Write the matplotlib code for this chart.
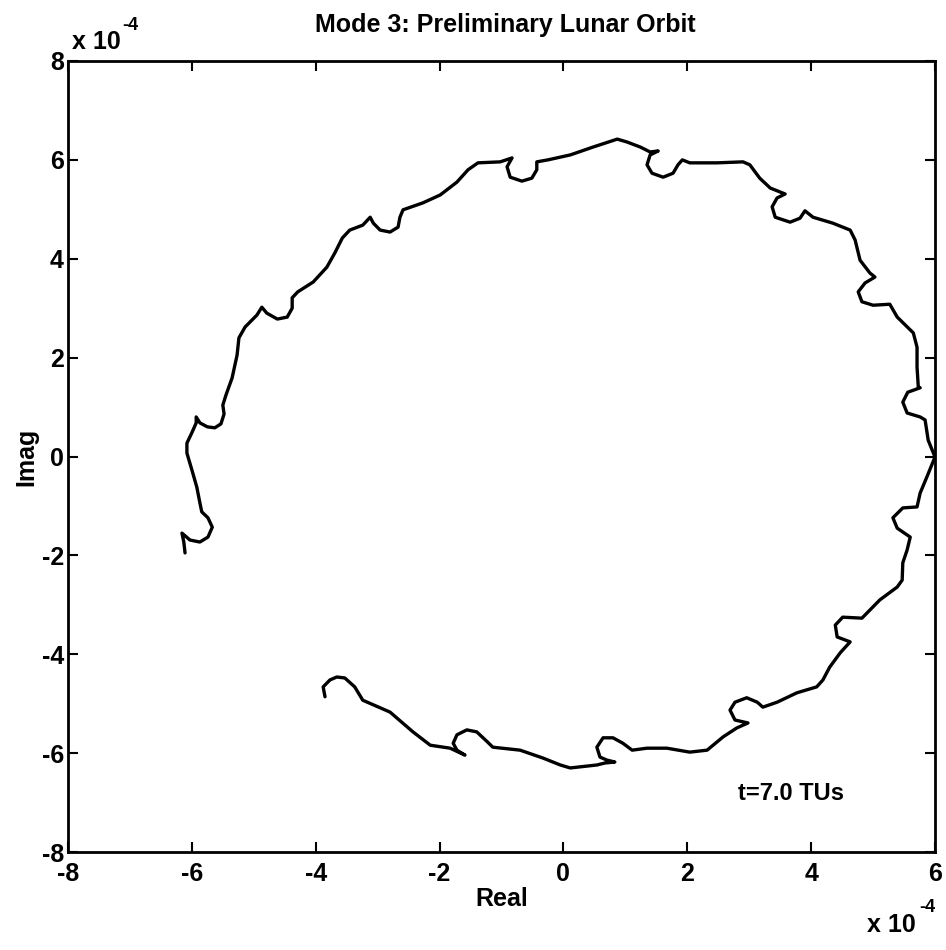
"""Mode 3 preliminary lunar orbit trace, MATLAB-style complex plane plot."""

import matplotlib

matplotlib.use("Agg")
import matplotlib.pyplot as plt

# orbit trace, both axes in units of 1e-4
real = [
    -6.11, -6.13, -6.16, -6.03, -5.87, -5.74, -5.67, -5.74, -5.84, -5.87,
    -5.92, -6.00, -6.08, -6.08, -6.00, -5.93, -5.93, -5.87, -5.75, -5.63,
    -5.53, -5.48, -5.50, -5.45, -5.35, -5.27, -5.24, -5.14, -4.95, -4.87,
    -4.79, -4.62, -4.46, -4.38, -4.38, -4.29, -4.04, -3.82, -3.69, -3.57,
    -3.45, -3.24, -3.12, -3.07, -2.96, -2.80, -2.67, -2.64, -2.59, -2.27,
    -1.99, -1.72, -1.54, -1.38, -1.02, -0.83, -0.91, -0.86, -0.67, -0.51,
    -0.43, -0.43, -0.25, 0.11, 0.48, 0.87, 1.03, 1.24, 1.40, 1.53,
    1.40, 1.35, 1.43, 1.61, 1.77, 1.85, 1.92, 2.04, 2.48, 2.90,
    3.01, 3.17, 3.34, 3.58, 3.45, 3.37, 3.42, 3.66, 3.82, 3.90,
    4.03, 4.35, 4.63, 4.71, 4.79, 4.95, 5.03, 4.87, 4.76, 4.82,
    5.00, 5.27, 5.39, 5.65, 5.71, 5.71, 5.73, 5.76, 5.56, 5.48,
    5.55, 5.76, 5.84, 5.89, 6.00, 5.87, 5.76, 5.71, 5.48, 5.32,
    5.39, 5.60, 5.55, 5.48, 5.47, 5.39, 5.11, 4.90, 4.82, 4.51,
    4.39, 4.42, 4.63, 4.47, 4.30, 4.19, 4.09, 3.77, 3.45, 3.22,
    3.13, 2.96, 2.77, 2.69, 2.77, 2.98, 2.80, 2.58, 2.32, 2.04,
    1.67, 1.35, 1.11, 0.96, 0.80, 0.64, 0.54, 0.59, 0.70, 0.83,
    0.67, 0.54, 0.11, -0.05, -0.33, -0.70, -1.14, -1.23, -1.40, -1.56,
    -1.72, -1.78, -1.72, -1.59, -1.83, -2.15, -2.43, -2.80, -3.24, -3.37,
    -3.53, -3.66, -3.77, -3.88, -3.85,
]
imag = [
    -1.95, -1.73, -1.55, -1.69, -1.73, -1.63, -1.43, -1.24, -1.12, -0.94,
    -0.62, -0.27, 0.07, 0.27, 0.48, 0.68, 0.80, 0.68, 0.60, 0.58,
    0.66, 0.86, 1.04, 1.24, 1.59, 2.05, 2.40, 2.62, 2.86, 3.02,
    2.90, 2.78, 2.82, 3.00, 3.21, 3.33, 3.53, 3.83, 4.12, 4.42,
    4.58, 4.68, 4.84, 4.72, 4.58, 4.54, 4.64, 4.84, 4.99, 5.13,
    5.29, 5.55, 5.80, 5.94, 5.96, 6.04, 5.86, 5.65, 5.57, 5.63,
    5.80, 5.96, 6.00, 6.10, 6.26, 6.42, 6.36, 6.26, 6.16, 6.18,
    6.10, 5.90, 5.73, 5.65, 5.73, 5.90, 6.00, 5.94, 5.94, 5.96,
    5.90, 5.63, 5.43, 5.31, 5.23, 5.05, 4.84, 4.74, 4.82, 4.97,
    4.84, 4.72, 4.58, 4.38, 3.97, 3.71, 3.63, 3.51, 3.33, 3.13,
    3.06, 3.08, 2.82, 2.50, 2.21, 1.81, 1.41, 1.39, 1.30, 1.10,
    0.88, 0.80, 0.74, 0.33, -0.01, -0.41, -0.74, -1.02, -1.04, -1.24,
    -1.45, -1.63, -1.89, -2.15, -2.50, -2.64, -2.90, -3.17, -3.27, -3.25,
    -3.41, -3.65, -3.75, -3.97, -4.26, -4.52, -4.66, -4.78, -4.97, -5.07,
    -4.97, -4.88, -4.97, -5.13, -5.33, -5.39, -5.49, -5.67, -5.94, -5.98,
    -5.90, -5.90, -5.94, -5.80, -5.69, -5.69, -5.88, -6.08, -6.14, -6.18,
    -6.20, -6.24, -6.30, -6.24, -6.10, -5.94, -5.88, -5.77, -5.57, -5.53,
    -5.63, -5.80, -5.94, -6.04, -5.90, -5.84, -5.57, -5.17, -4.93, -4.66,
    -4.48, -4.46, -4.52, -4.66, -4.86,
]

x_ticks = [-8, -6, -4, -2, 0, 2, 4, 6]
y_ticks = [-8, -6, -4, -2, 0, 2, 4, 6, 8]

plt.rcParams["font.family"] = ["Liberation Sans", "DejaVu Sans"]
plt.rcParams["font.weight"] = "bold"
plt.rcParams["axes.unicode_minus"] = False

W, H = 946, 950
fig = plt.figure(figsize=(W / 100, H / 100), dpi=100)
ax = fig.add_axes([68 / W, 1 - 852 / H, (935 - 68) / W, (852 - 61) / H])

ax.plot(real, imag, color="black", lw=2.4, solid_joinstyle="round", solid_capstyle="round")

ax.set_xlim(-8, 6)
ax.set_ylim(-8, 8)
ax.set_xticks(x_ticks)
ax.set_yticks(y_ticks)
ax.tick_params(direction="in", length=7, width=1.5, top=True, right=True, labelsize=18)
ax.tick_params(axis="x", pad=7)
ax.tick_params(axis="y", pad=3)
for sp in ax.spines.values():
    sp.set_linewidth(2)

ax.set_xlabel("Real", fontsize=18, fontweight="bold", labelpad=1)
ax.set_ylabel("Imag", fontsize=18, fontweight="bold", labelpad=2)
ax.text(3.67, -6.81, "t=7.0 TUs", ha="center", va="center", fontsize=17)

fig.text(505 / W, 1 - 25 / H, "Mode 3: Preliminary Lunar Orbit", ha="center", va="center", fontsize=18)

# MATLAB-style exponent labels
fig.text(72 / W, 1 - 42 / H, "x 10", ha="left", va="center", fontsize=18)
fig.text(122 / W, 1 - 26 / H, "-4", ha="left", va="center", fontsize=13)
fig.text(867 / W, 1 - 925 / H, "x 10", ha="left", va="center", fontsize=18)
fig.text(919 / W, 1 - 908 / H, "-4", ha="left", va="center", fontsize=13)

fig.savefig("out.png", dpi=100)
